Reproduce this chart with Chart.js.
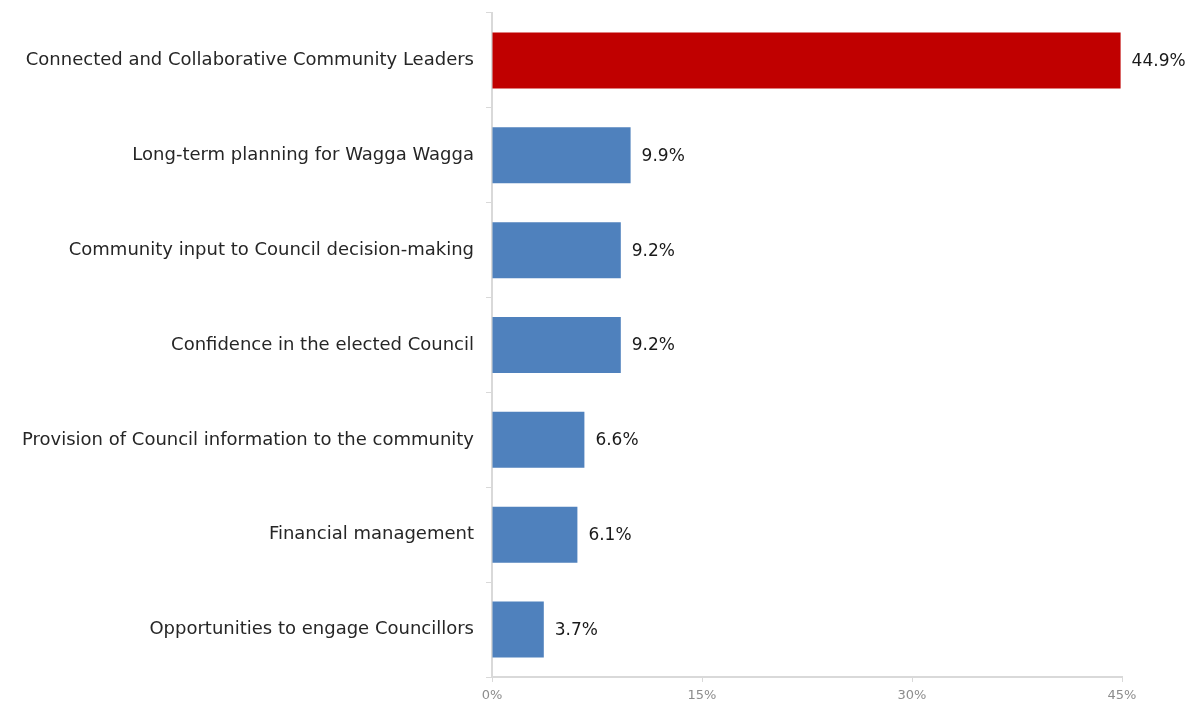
<!DOCTYPE html>
<html>
<head>
<meta charset="utf-8">
<script src="https://cdn.jsdelivr.net/npm/chart.js@4.4.1/dist/chart.umd.min.js"></script>
<style>
  html, body { margin: 0; padding: 0; background: #fff; }
  #wrap { width: 1192px; height: 704px; position: relative; }
</style>
</head>
<body>
<div id="wrap"><canvas id="chart"></canvas></div>
<script>
const CATEGORIES = [
  "Connected and Collaborative Community Leaders",
  "Long-term planning for Wagga Wagga",
  "Community input to Council decision-making",
  "Confidence in the elected Council",
  "Provision of Council information to the community",
  "Financial management",
  "Opportunities to engage Councillors",
];
const VALUES = [44.9, 9.9, 9.2, 9.2, 6.6, 6.1, 3.7];
const BAR_COLORS = ["#c00000", "#4f81bd", "#4f81bd", "#4f81bd", "#4f81bd", "#4f81bd", "#4f81bd"];
const X_TICKS = [0, 15, 30, 45];

const FONT = "'DejaVu Sans', sans-serif";

const valueLabels = {
  id: "valueLabels",
  afterDatasetsDraw(chart) {
    const ctx = chart.ctx;
    const meta = chart.getDatasetMeta(0);
    ctx.save();
    ctx.font = "17px " + FONT;
    ctx.fillStyle = "#1a1a1a";
    ctx.textBaseline = "middle";
    ctx.textAlign = "left";
    meta.data.forEach((bar, i) => {
      ctx.fillText(VALUES[i].toFixed(1) + "%", bar.x + 11, bar.y + 1);
    });
    ctx.restore();
  },
};

new Chart(document.getElementById("chart"), {
  type: "bar",
  data: {
    labels: CATEGORIES,
    datasets: [{
      data: VALUES,
      backgroundColor: BAR_COLORS,
      borderWidth: 0,
      barPercentage: 1,
      categoryPercentage: 0.59,
    }],
  },
  options: {
    indexAxis: "y",
    responsive: true,
    maintainAspectRatio: false,
    animation: false,
    layout: { padding: { top: 13, right: 70, left: 0, bottom: 0 } },
    scales: {
      x: {
        min: 0,
        max: 45,
        afterBuildTicks: (axis) => { axis.ticks = X_TICKS.map((v) => ({ value: v })); },
        afterFit: (axis) => { axis.height = 27; },
        grid: { drawOnChartArea: false, color: "#d9d9d9", tickLength: 5, lineWidth: 1 },
        border: { color: "#d9d9d9", width: 2 },
        ticks: {
          color: "#8c8c8c",
          font: { family: FONT, size: 13 },
          padding: 6,
          callback: (v) => v + "%",
        },
      },
      y: {
        afterFit: (axis) => {
          axis.width = 492;
          axis.paddingTop = 0;
          axis.paddingBottom = 0;
        },
        grid: { drawOnChartArea: false, color: "#d9d9d9", tickLength: 6, offset: true },
        border: { color: "#d9d9d9", width: 2 },
        ticks: {
          color: "#262626",
          font: { family: FONT, size: 18 },
          padding: 12,
        },
      },
    },
    plugins: {
      legend: { display: false },
      tooltip: { enabled: false },
    },
  },
  plugins: [valueLabels],
});
</script>
</body>
</html>
